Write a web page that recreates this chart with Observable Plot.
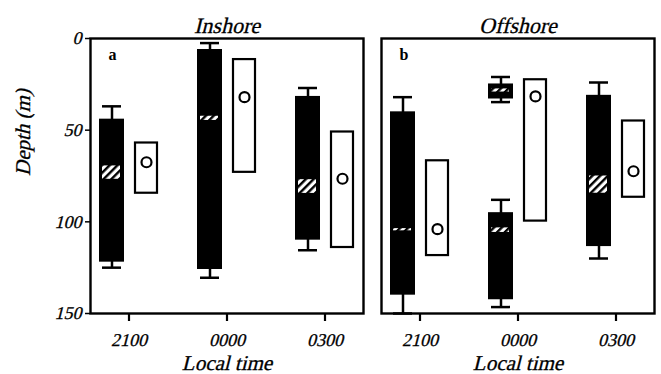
<!DOCTYPE html>
<html><head><meta charset="utf-8">
<script src="https://cdn.jsdelivr.net/npm/d3@7"></script>
<script src="https://cdn.jsdelivr.net/npm/@observablehq/plot@0.6"></script>
<style>body{margin:0;background:#fff}</style>
</head><body><div id="chart"></div>
<script>
const panels = ["Inshore", "Offshore"];
const panelLetters = ["a", "b"];
const times = ["2100", "0000", "0300"];
const yTicks = [0, 50, 100, 150];

// Black (filled) boxes
const boxPanel = ["Inshore", "Inshore", "Inshore", "Offshore", "Offshore", "Offshore", "Offshore"];
const boxTime = ["2100", "0000", "0300", "2100", "0000", "0000", "0300"];
const boxTop = [44, 6, 31.6, 40, 24.8, 95, 31];
const boxBottom = [122, 126, 110, 140, 33, 142.5, 113.5];
const whiskerTop = [37, 2.5, 27, 32, 21, 88, 24];
const whiskerBottom = [125, 130.5, 115.5, 150, 34.7, 146.5, 120];
const medianTop = [69.5, 42.4, 77, 103.7, 27.5, 103.3, 75];
const medianBottom = [76.8, 44.7, 84.5, 104.9, 29.2, 105.8, 84.4];

// White (open) boxes with mean circles
const openPanel = ["Inshore", "Inshore", "Inshore", "Offshore", "Offshore", "Offshore"];
const openTime = ["2100", "0000", "0300", "2100", "0000", "0300"];
const openTop = [57, 11.5, 51, 66.7, 22.5, 45];
const openBottom = [84.4, 73, 114, 118.4, 99.6, 86.6];
const openMean = [67.5, 32, 76.5, 104, 31.6, 72.4];

const black = boxPanel.map((p, i) => ({
  panel: p, time: boxTime[i], top: boxTop[i], bottom: boxBottom[i],
  wTop: whiskerTop[i], wBottom: whiskerBottom[i], mTop: medianTop[i], mBottom: medianBottom[i]
}));
const open = openPanel.map((p, i) => ({
  panel: p, time: openTime[i], top: openTop[i], bottom: openBottom[i], mean: openMean[i]
}));

const chart = Plot.plot({
  width: 661, height: 374,
  marginTop: 38, marginBottom: 61, marginLeft: 89, marginRight: 6,
  style: {fontFamily: "Liberation Serif", background: "white", color: "black"},
  fx: {domain: panels, paddingInner: 0.0616, paddingOuter: 0, label: null},
  x: {domain: times, paddingInner: 0.394, paddingOuter: 0.086, label: null},
  y: {domain: [0, 150], reverse: true, label: null},
  marks: [
    Plot.ruleX(black, {fx: "panel", x: "time", y1: "wTop", y2: "wBottom", dx: -17, stroke: "black", strokeWidth: 2.5}),
    Plot.tickY(black, {fx: "panel", x: "time", y: "wTop", insetLeft: 3, insetRight: 37, stroke: "black", strokeWidth: 2.5}),
    Plot.tickY(black, {fx: "panel", x: "time", y: "wBottom", insetLeft: 3, insetRight: 37, stroke: "black", strokeWidth: 2.5}),
    Plot.barY(black, {fx: "panel", x: "time", y1: "top", y2: "bottom", insetRight: 34, fill: "black"}),
    Plot.barY(black, {fx: "panel", x: "time", y1: "mTop", y2: "mBottom", insetLeft: 3, insetRight: 38, fill: "url(#hatch)"}),
    Plot.barY(open, {fx: "panel", x: "time", y1: "top", y2: "bottom", insetLeft: 36, insetRight: 1, fill: "white", stroke: "black", strokeWidth: 2.2}),
    Plot.dot(open, {fx: "panel", x: "time", y: "mean", dx: 17.5, r: 5, fill: "white", stroke: "black", strokeWidth: 2.2}),
    Plot.frame({stroke: "black", strokeWidth: 2.4}),
    Plot.axisX({tickSize: 8, tickPadding: 12, fontSize: 18, label: null, strokeWidth: 2.2}),
    Plot.axisY({ticks: yTicks, tickSize: 5, tickPadding: 4, fontSize: 18, label: null, strokeWidth: 1.5}),
    Plot.axisFx({anchor: "top", tickSize: 0, tickPadding: 6, fontSize: 22, label: null}),
    Plot.text(panels, {fx: d => d, text: (d, i) => panelLetters[i], frameAnchor: "top-left", dx: 18, dy: 10, fontWeight: "bold", fontSize: 16, className: "upright"}),
    Plot.text(["Local time"], {text: d => d, frameAnchor: "bottom", dy: 56, fontSize: 21}),
    Plot.text([panels[0]], {fx: d => d, text: () => "Depth (m)", frameAnchor: "left", rotate: -90, dx: -67, fontSize: 21})
  ]
});

const svgEl = chart.tagName.toLowerCase() === "svg" ? chart : chart.querySelector("svg");
const svg = d3.select(svgEl);

// slanted (italic-like) serif text: skew the regular serif glyphs about each text's baseline point
const k = Math.tan(14 * Math.PI / 180);
svg.selectAll("text").each(function () {
  if (this.closest(".upright")) return;
  const yAttr = this.getAttribute("y");
  if (yAttr && /em$/.test(yAttr)) {
    this.setAttribute("x", (k * parseFloat(yAttr)).toFixed(3) + "em");
  }
  const t = this.getAttribute("transform") || "";
  this.setAttribute("transform", `${t} skewX(-14)`);
  this.setAttribute("fill", "black");
  this.setAttribute("stroke", "black");
  this.setAttribute("stroke-width", "0.3");
});

// hatch pattern for median bands
const defs = svg.insert("defs", ":first-child");
const pat = defs.append("pattern").attr("id", "hatch").attr("patternUnits", "userSpaceOnUse")
  .attr("width", 5.5).attr("height", 5.5).attr("patternTransform", "rotate(45)");
pat.append("rect").attr("width", 5.5).attr("height", 5.5).attr("fill", "white");
pat.append("rect").attr("width", 2.4).attr("height", 5.5).attr("fill", "black");

document.getElementById("chart").appendChild(chart);
</script>
</body></html>
